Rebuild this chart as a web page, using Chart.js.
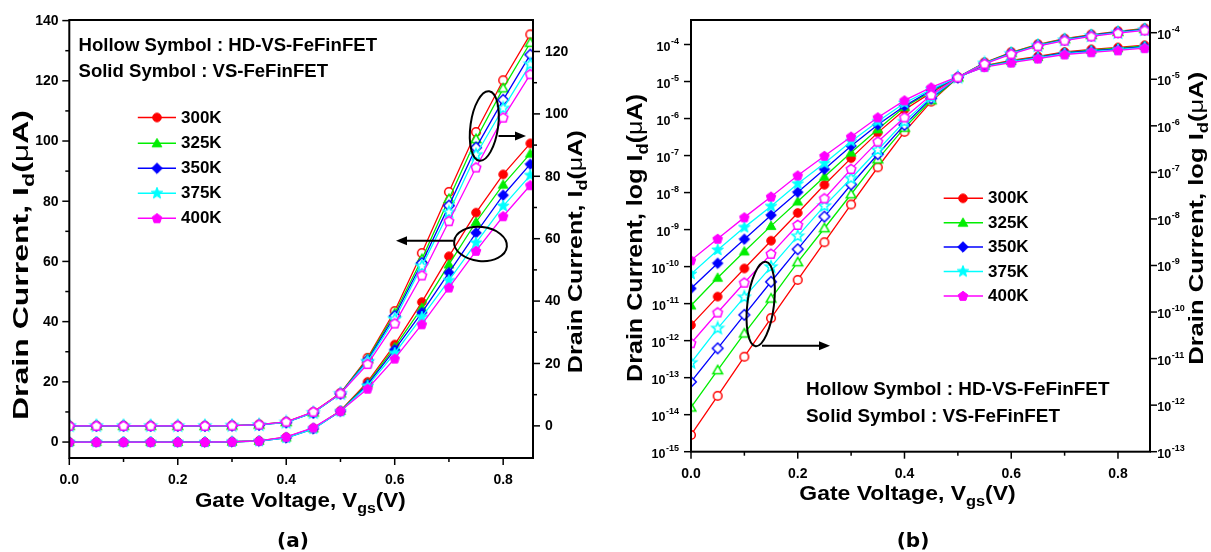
<!DOCTYPE html>
<html><head><meta charset="utf-8">
<script src="https://cdn.jsdelivr.net/npm/chart.js@4.4.0/dist/chart.umd.min.js"></script>
<style>
html,body{margin:0;padding:0;background:#fff;}
#wrap{position:relative;width:1211px;height:552px;overflow:hidden;background:#fff}
#ca{position:absolute;left:0;top:0}
#cb{position:absolute;left:605px;top:0}
</style></head><body>
<div id="wrap">
<canvas id="ca" width="605" height="552" style="width:605px;height:552px"></canvas>
<canvas id="cb" width="606" height="552" style="width:606px;height:552px"></canvas>
</div>
<script>
// ---------------- data ----------------
const vgs = [0,0.05,0.1,0.15,0.2,0.25,0.3,0.35,0.4,0.45,0.5,0.55,0.6,0.65,0.7,0.75,0.8,0.85];
const temps = ['300K','325K','350K','375K','400K'];

// Panel (a): Id in uA, solid = VS-FeFinFET (left axis), hollow = HD-VS-FeFinFET (right axis)
const solidA300 = [0,0,0,0,0,0,0.1,0.4,1.6,4.6,10.4,20.0,32.4,46.5,61.7,76.2,88.9,99.2];
const solidA325 = [0,0,0,0,0,0,0.1,0.4,1.5,4.5,10.3,19.5,31.5,44.6,59.0,73.1,85.5,95.8];
const solidA350 = [0,0,0,0,0,0,0.1,0.3,1.4,4.4,10.2,19.1,30.7,43.0,56.3,69.5,82.0,92.3];
const solidA375 = [0,0,0,0,0,0,0.1,0.3,1.4,4.4,10.2,18.6,29.5,41.5,53.7,66.2,78.4,88.6];
const solidA400 = [0,0,0,0,0,0,0.1,0.4,1.7,4.8,10.3,17.7,27.7,39.1,51.3,63.5,75.0,85.3];
const hollowA300 = [0,0,0,0,0,0,0.1,0.4,1.3,4.4,10.5,21.8,36.8,55.4,75.0,94.2,110.8,125.5];
const hollowA325 = [0,0,0,0,0,0,0.1,0.4,1.2,4.3,10.4,21.4,36.0,53.4,72.7,91.9,108.2,122.8];
const hollowA350 = [0,0,0,0,0,0,0.1,0.3,1.1,4.2,10.3,21.0,35.2,52.2,70.6,89.2,104.5,119.0];
const hollowA375 = [0,0,0,0,0,0,0.1,0.3,1.1,4.2,10.3,20.6,34.2,51.2,68.5,86.9,101.8,115.9];
const hollowA400 = [0,0,0,0,0,0,0.1,0.4,1.3,4.5,10.4,19.8,32.8,48.2,65.6,82.8,98.8,112.7];

// Panel (b): log10 of Id
const logSolidB300 = [-11.58,-10.81,-10.05,-9.30,-8.55,-7.79,-7.07,-6.38,-5.76,-5.30,-4.89,-4.57,-4.43,-4.32,-4.20,-4.13,-4.08,-4.02];
const logSolidB325 = [-11.05,-10.30,-9.59,-8.90,-8.24,-7.57,-6.92,-6.29,-5.69,-5.27,-4.88,-4.58,-4.45,-4.34,-4.22,-4.15,-4.10,-4.04];
const logSolidB350 = [-10.59,-9.91,-9.26,-8.61,-7.99,-7.37,-6.74,-6.17,-5.66,-5.24,-4.88,-4.59,-4.46,-4.35,-4.23,-4.17,-4.12,-4.06];
const logSolidB375 = [-10.20,-9.55,-8.94,-8.37,-7.76,-7.21,-6.62,-6.08,-5.58,-5.21,-4.88,-4.60,-4.47,-4.36,-4.25,-4.19,-4.14,-4.08];
const logSolidB400 = [-9.83,-9.25,-8.67,-8.11,-7.54,-7.01,-6.49,-5.97,-5.51,-5.16,-4.87,-4.61,-4.49,-4.38,-4.27,-4.21,-4.16,-4.10];
const logHollowB300 = [-12.64,-11.80,-10.96,-10.13,-9.31,-8.50,-7.69,-6.89,-6.13,-5.48,-4.96,-4.64,-4.42,-4.25,-4.13,-4.04,-3.97,-3.91];
const logHollowB325 = [-12.05,-11.25,-10.46,-9.71,-8.93,-8.20,-7.47,-6.72,-6.04,-5.45,-4.96,-4.65,-4.43,-4.26,-4.14,-4.05,-3.98,-3.92];
const logHollowB350 = [-11.50,-10.78,-10.06,-9.35,-8.65,-7.95,-7.26,-6.61,-5.98,-5.41,-4.96,-4.66,-4.44,-4.27,-4.15,-4.06,-3.99,-3.93];
const logHollowB375 = [-11.09,-10.35,-9.68,-9.03,-8.37,-7.72,-7.13,-6.52,-5.91,-5.38,-4.96,-4.66,-4.45,-4.28,-4.16,-4.07,-4.00,-3.94];
const logHollowB400 = [-10.67,-10.01,-9.37,-8.75,-8.13,-7.56,-6.93,-6.34,-5.82,-5.34,-4.96,-4.67,-4.46,-4.29,-4.17,-4.08,-4.01,-3.95];

// tick values
const xTicks = [0,0.2,0.4,0.6,0.8];
const xMinorTicks = [0.1,0.3,0.5,0.7];
const aLeftTicks = [0,20,40,60,80,100,120,140];
const aLeftMinor = [10,30,50,70,90,110,130];
const aRightTicks = [0,20,40,60,80,100,120];
const aRightMinor = [10,30,50,70,90,110];
const bLeftDecades = [-15,-14,-13,-12,-11,-10,-9,-8,-7,-6,-5,-4];
const bRightDecades = [-13,-12,-11,-10,-9,-8,-7,-6,-5,-4];

// ---------------- styles ----------------
const colors = ['#FF0000','#00EE00','#0000FF','#00FFFF','#FF00FF'];
const shapes = ['circle','triangle','diamond','star','pentagon'];
const FONT = '"Liberation Sans", Arial, Helvetica, sans-serif';
function fnt(size, weight){ return (weight||'bold') + ' ' + size + 'px ' + FONT; }

function polyPath(g, n, r, start, dy){
  for (let k=0;k<n;k++){ const a=start+k*2*Math.PI/n; const x=r*Math.cos(a), y=r*Math.sin(a)+(dy||0); k?g.lineTo(x,y):g.moveTo(x,y); }
}
function starPath(g, ro, ri){
  for (let k=0;k<10;k++){ const a=-Math.PI/2+k*Math.PI/5; const r=k%2?ri:ro; const x=r*Math.cos(a), y=r*Math.sin(a); k?g.lineTo(x,y):g.moveTo(x,y); }
}
function makeMarker(shape, color, filled){
  const c=document.createElement('canvas'); const S=16; c.width=S; c.height=S;
  const g=c.getContext('2d'); g.translate(S/2,S/2);
  g.beginPath();
  if (shape==='circle') g.arc(0,0,4.3,0,2*Math.PI);
  else if (shape==='triangle') polyPath(g,3,5.6,-Math.PI/2,0.8);
  else if (shape==='diamond') polyPath(g,4,5.3,-Math.PI/2,0);
  else if (shape==='star') starPath(g,6.0,2.6);
  else polyPath(g,5,5.0,-Math.PI/2,0.3);
  g.closePath();
  if (filled){ g.fillStyle=color; g.fill(); g.lineWidth=1; g.strokeStyle=color; g.stroke(); }
  else { g.fillStyle='#fff'; g.fill(); g.lineWidth=1.5; g.strokeStyle=color; g.stroke(); }
  return c;
}
const filledMk = shapes.map((s,i)=>makeMarker(s,colors[i],true));
const hollowMk = shapes.map((s,i)=>makeMarker(s,colors[i],false));

function buildSets(solidArrs, hollowArrs, conv){
  const ds=[];
  hollowArrs.forEach((arr,i)=>ds.push({
    label: temps[i]+' HD-VS-FeFinFET', data: vgs.map((v,k)=>({x:v,y:conv(arr[k])})),
    yAxisID:'y2', borderColor:colors[i], backgroundColor:colors[i], borderWidth:1.3,
    pointStyle:hollowMk[i], pointRadius:5, pointHoverRadius:5, order:4-i, clip:0, tension:0, fill:false }));
  solidArrs.forEach((arr,i)=>ds.push({
    label: temps[i]+' VS-FeFinFET', data: vgs.map((v,k)=>({x:v,y:conv(arr[k])})),
    yAxisID:'y', borderColor:colors[i], backgroundColor:colors[i], borderWidth:1.3,
    pointStyle:filledMk[i], pointRadius:5, pointHoverRadius:5, order:9-i, clip:0, tension:0, fill:false }));
  return ds;
}

// ---------------- drawing helpers ----------------
function drawRich(ctx, parts, x, y, opts){
  opts=opts||{};
  ctx.save(); ctx.translate(x,y); if (opts.rot) ctx.rotate(opts.rot);
  let w=0; const ws=parts.map(p=>{ctx.font=fnt(p.size,p.weight); const m=ctx.measureText(p.t).width; w+=m; return m;});
  const s = opts.fit ? opts.fit/w : 1;
  ctx.scale(s,1);
  let cx = opts.align==='center' ? -w/2 : (opts.align==='right' ? -w : 0);
  ctx.textAlign='left'; ctx.textBaseline='alphabetic'; ctx.fillStyle='#000';
  parts.forEach((p,i)=>{ ctx.font=fnt(p.size,p.weight); ctx.fillText(p.t,cx,p.dy||0); cx+=ws[i]; });
  ctx.restore();
}
function titleParts(pre, size){
  return [{t:pre+'I',size:size},{t:'d',size:Math.round(size*0.72),dy:Math.round(size*0.25)},{t:'(',size:size},{t:'\u03bc',size:size,weight:'normal'},{t:'A)',size:size}];
}
function xTitleParts(size){
  return [{t:'Gate Voltage, V',size:size},{t:'gs',size:Math.round(size*0.72),dy:Math.round(size*0.28)},{t:'(V)',size:size}];
}
function line(ctx,x1,y1,x2,y2){ ctx.beginPath(); ctx.moveTo(x1,y1); ctx.lineTo(x2,y2); ctx.stroke(); }
function arrow(ctx,x1,y,x2){
  const dir = x2>x1?1:-1; const L=11, H=4.5;
  ctx.lineWidth=2; line(ctx,x1,y,x2-dir*L*0.6,y);
  ctx.beginPath(); ctx.moveTo(x2,y); ctx.lineTo(x2-dir*L,y-H); ctx.lineTo(x2-dir*L,y+H); ctx.closePath(); ctx.fillStyle='#000'; ctx.fill();
}
function ellipse(ctx,cx,cy,rx,ry,rot){ ctx.lineWidth=2; ctx.beginPath(); ctx.ellipse(cx,cy,rx,ry,rot,0,2*Math.PI); ctx.stroke(); }
function legend(ctx, x1, x2, xm, xt, rows){
  rows.forEach((y,i)=>{
    ctx.strokeStyle=colors[i]; ctx.lineWidth=1.5; line(ctx,x1,y,x2,y);
    ctx.drawImage(filledMk[i], xm-8, y-8);
    ctx.fillStyle='#000'; ctx.font=fnt(17); ctx.textAlign='left'; ctx.textBaseline='middle'; ctx.fillText(temps[i], xt, y+0.5);
  });
}
function drawPow(ctx, e, x, y, align){
  const base='10', sup=String(e);
  ctx.font=fnt(12.5); const wb=ctx.measureText(base).width;
  ctx.font=fnt(9); const wsup=ctx.measureText(sup).width;
  const tot=wb+wsup+0.5; const x0 = align==='right' ? x-tot : x;
  ctx.textAlign='left'; ctx.textBaseline='alphabetic'; ctx.fillStyle='#000';
  ctx.font=fnt(12.5); ctx.fillText(base,x0,y+6);
  ctx.font=fnt(9); ctx.fillText(sup,x0+wb+0.5,y-1);
}
function commonX(ctx, chart, labelBase){
  const ca=chart.chartArea, sx=chart.scales.x;
  ctx.strokeStyle='#000'; ctx.lineWidth=1.5;
  xTicks.forEach(v=>{const p=sx.getPixelForValue(v); line(ctx,p,ca.bottom,p,ca.bottom+7);});
  xMinorTicks.forEach(v=>{const p=sx.getPixelForValue(v); line(ctx,p,ca.bottom,p,ca.bottom+4);});
  ctx.fillStyle='#000'; ctx.font=fnt(14); ctx.textAlign='center'; ctx.textBaseline='alphabetic';
  xTicks.forEach(v=>ctx.fillText(v.toFixed(1), sx.getPixelForValue(v), labelBase));
}
function frame(ctx, ca){ ctx.strokeStyle='#000'; ctx.lineWidth=2; ctx.strokeRect(ca.left,ca.top,ca.right-ca.left,ca.bottom-ca.top); }

// ---------------- panel (a) ----------------
const decoA = { id:'decoA', afterDraw(chart){
  const ctx=chart.ctx, ca=chart.chartArea, sy=chart.scales.y, sy2=chart.scales.y2;
  ctx.save();
  frame(ctx,ca);
  commonX(ctx,chart,483.5);
  ctx.strokeStyle='#000'; ctx.lineWidth=1.5;
  aLeftTicks.forEach(v=>{const p=sy.getPixelForValue(v); line(ctx,ca.left,p,ca.left-7,p);});
  aLeftMinor.forEach(v=>{const p=sy.getPixelForValue(v); line(ctx,ca.left,p,ca.left-4,p);});
  aRightTicks.forEach(v=>{const p=sy2.getPixelForValue(v); line(ctx,ca.right,p,ca.right+7,p);});
  aRightMinor.forEach(v=>{const p=sy2.getPixelForValue(v); line(ctx,ca.right,p,ca.right+4,p);});
  ctx.fillStyle='#000'; ctx.font=fnt(14); ctx.textBaseline='middle';
  ctx.textAlign='right'; aLeftTicks.forEach(v=>ctx.fillText(String(v),58.5,sy.getPixelForValue(v)+0.5));
  ctx.textAlign='left'; aRightTicks.forEach(v=>ctx.fillText(String(v),545,sy2.getPixelForValue(v)+0.5));
  // titles
  drawRich(ctx,titleParts('Drain Current, ',22),28,265,{rot:-Math.PI/2,align:'center',fit:310});
  drawRich(ctx,titleParts('Drain Current, ',21),582,251.7,{rot:-Math.PI/2,align:'center',fit:243});
  drawRich(ctx,xTitleParts(21),300.3,507,{align:'center',fit:210.7});
  ctx.fillStyle='#000'; ctx.font='bold 20px "DejaVu Sans", sans-serif'; ctx.textAlign='center'; ctx.textBaseline='alphabetic';
  ctx.fillText('(a)',293,547);
  // annotations
  drawRich(ctx,[{t:'Hollow Symbol : HD-VS-FeFinFET',size:18.5}],78.5,50.7,{fit:298.5});
  drawRich(ctx,[{t:'Solid Symbol : VS-FeFinFET',size:18.5}],78.5,77.3,{fit:249.5});
  legend(ctx,137.8,176,157,181,[117.5,143.3,168.3,193.3,218.3]);
  ctx.strokeStyle='#000';
  ellipse(ctx,484.3,126,13.8,35,0.14); arrow(ctx,498.5,136,526);
  ellipse(ctx,480.5,244,26.5,17,0.1); arrow(ctx,453.5,240.7,396);
  ctx.restore();
}};

new Chart(document.getElementById('ca'), {
  type:'line',
  data:{ datasets: buildSets([solidA300,solidA325,solidA350,solidA375,solidA400],[hollowA300,hollowA325,hollowA350,hollowA375,hollowA400], v=>v) },
  options:{
    responsive:false, animation:false, events:[], devicePixelRatio:1,
    layout:{padding:{top:20,left:0,right:0,bottom:0}},
    plugins:{legend:{display:false},tooltip:{enabled:false}},
    scales:{
      x:{type:'linear',position:'bottom',min:0,max:0.855,ticks:{display:false},grid:{display:false},border:{display:false},afterFit:s=>{s.height=94;}},
      y:{type:'linear',position:'left',min:-5.3,max:140.2,ticks:{display:false},grid:{display:false},border:{display:false},afterFit:s=>{s.width=69.3;}},
      y2:{type:'linear',position:'right',min:-10.3,max:130.1,ticks:{display:false},grid:{display:false},border:{display:false},afterFit:s=>{s.width=72;}}
    }
  },
  plugins:[decoA]
});

// ---------------- panel (b) ----------------
const decoB = { id:'decoB', afterDraw(chart){
  const ctx=chart.ctx, ca=chart.chartArea, sy=chart.scales.y, sy2=chart.scales.y2;
  ctx.save();
  frame(ctx,ca);
  commonX(ctx,chart,477.5);
  ctx.strokeStyle='#000'; ctx.lineWidth=1.5;
  bLeftDecades.forEach(e=>{const p=sy.getPixelForValue(Math.pow(10,e)); line(ctx,ca.left,p,ca.left-7,p);});
  bRightDecades.forEach(e=>{const p=sy2.getPixelForValue(Math.pow(10,e)); line(ctx,ca.right,p,ca.right+7,p);});
  bLeftDecades.forEach(e=>drawPow(ctx,e,74,sy.getPixelForValue(Math.pow(10,e)),'right'));
  bRightDecades.forEach(e=>drawPow(ctx,e,552.3,sy2.getPixelForValue(Math.pow(10,e)),'left'));
  drawRich(ctx,titleParts('Drain Current, log ',22),37,238,{rot:-Math.PI/2,align:'center',fit:288});
  drawRich(ctx,titleParts('Drain Current, log ',21),598,218.3,{rot:-Math.PI/2,align:'center',fit:293});
  drawRich(ctx,xTitleParts(21),302.5,500,{align:'center',fit:216.3});
  ctx.fillStyle='#000'; ctx.font='bold 20px "DejaVu Sans", sans-serif'; ctx.textAlign='center'; ctx.textBaseline='alphabetic';
  ctx.fillText('(b)',308,547);
  drawRich(ctx,[{t:'Hollow Symbol : HD-VS-FeFinFET',size:19}],201,395,{fit:303.5});
  drawRich(ctx,[{t:'Solid Symbol : VS-FeFinFET',size:19}],201,421.7,{fit:254});
  legend(ctx,338.7,378,358,383,[198.3,222.7,247,271.5,296]);
  ctx.strokeStyle='#000';
  ellipse(ctx,155.7,304,13.3,42.5,0.12); arrow(ctx,157,345.7,225);
  ctx.restore();
}};

const p10 = v=>Math.pow(10,v);
new Chart(document.getElementById('cb'), {
  type:'line',
  data:{ datasets: buildSets([logSolidB300,logSolidB325,logSolidB350,logSolidB375,logSolidB400],[logHollowB300,logHollowB325,logHollowB350,logHollowB375,logHollowB400], p10) },
  options:{
    responsive:false, animation:false, events:[], devicePixelRatio:1,
    layout:{padding:{top:20,left:0,right:0,bottom:0}},
    plugins:{legend:{display:false},tooltip:{enabled:false}},
    scales:{
      x:{type:'linear',position:'bottom',min:0,max:0.86,ticks:{display:false},grid:{display:false},border:{display:false},afterFit:s=>{s.height=100.3;}},
      y:{type:'logarithmic',position:'left',min:1e-15,max:Math.pow(10,-3.338),ticks:{display:false},grid:{display:false},border:{display:false},afterFit:s=>{s.width=86;}},
      y2:{type:'logarithmic',position:'right',min:1e-13,max:Math.pow(10,-3.727),ticks:{display:false},grid:{display:false},border:{display:false},afterFit:s=>{s.width=61;}}
    }
  },
  plugins:[decoB]
});
</script>
</body></html>
